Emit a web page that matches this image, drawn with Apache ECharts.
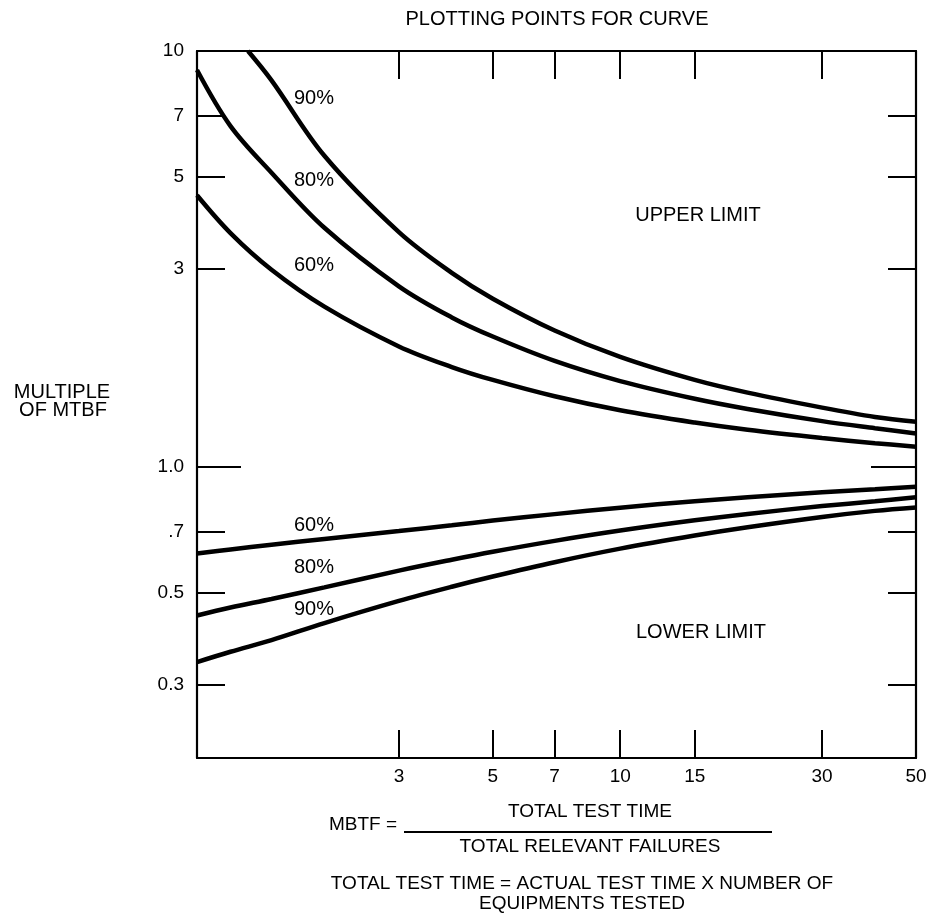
<!DOCTYPE html>
<html>
<head>
<meta charset="utf-8">
<script src="https://cdn.jsdelivr.net/npm/echarts@6/dist/echarts.min.js"></script>
<style>
  html, body { margin: 0; padding: 0; background: #fff; }
  #chart { width: 934px; height: 924px; }
</style>
</head>
<body>
<div id="chart"></div>
<script>
// number of failures (x) and multiple of MTBF (y)
var failures = [1, 1.2, 1.5, 2, 3, 4, 5, 7, 10, 15, 20, 30, 40, 50];
var upper90X = [1.32, 1.5, 2, 3, 4, 5, 7, 10, 15, 20, 30, 40, 50];
var upper90 = [10, 8.5, 5.6, 3.67, 2.93, 2.54, 2.13, 1.84, 1.62, 1.51, 1.39, 1.32, 1.285];
var upper80 = [9.0, 6.6, 5.1, 3.76, 2.72, 2.29, 2.06, 1.8, 1.61, 1.46, 1.38, 1.29, 1.24, 1.205];
var upper60 = [4.5, 3.65, 2.98, 2.43, 1.95, 1.74, 1.62, 1.48, 1.37, 1.28, 1.23, 1.175, 1.142, 1.12];
var lower60 = [0.62, 0.634, 0.651, 0.672, 0.702, 0.725, 0.744, 0.771, 0.799, 0.828, 0.846, 0.87, 0.885, 0.897];
var lower80 = [0.44, 0.46, 0.482, 0.514, 0.564, 0.599, 0.626, 0.665, 0.704, 0.745, 0.772, 0.806, 0.828, 0.846];
var lower90 = [0.34, 0.36, 0.384, 0.422, 0.477, 0.516, 0.546, 0.591, 0.637, 0.685, 0.717, 0.759, 0.785, 0.8];

// tick labels
var xTickValues = [3, 5, 7, 10, 15, 30, 50];
var xTickLabels = ['3', '5', '7', '10', '15', '30', '50'];
var yTickValues = [10, 7, 5, 3, 1, 0.7, 0.5, 0.3];
var yTickLabels = ['10', '7', '5', '3', '1.0', '.7', '0.5', '0.3'];

var FONT = '"Liberation Sans", Arial, Helvetica, sans-serif';

function lookup(values, labels) {
  return function (v) {
    for (var i = 0; i < values.length; i++) {
      if (Math.abs(v - values[i]) / values[i] < 1e-4) return labels[i];
    }
    return '';
  };
}

function pairs(xs, ys) {
  return xs.map(function (x, i) { return [x, ys[i]]; });
}

var xInner = [3, 5, 7, 10, 15, 30];
var yInner = [7, 5, 3, 0.7, 0.5, 0.3];

function xAxisOf(pos, showLabels) {
  return {
    type: 'log', logBase: 10, min: 1, max: 50, position: pos,
    axisLine: { show: true, lineStyle: { color: '#000', width: 2.2 } },
    axisTick: { show: true, inside: true, length: 28, customValues: xInner,
      lineStyle: { color: '#000', width: 2 } },
    axisLabel: { show: showLabels, customValues: xTickValues, margin: 9,
      formatter: lookup(xTickValues, xTickLabels),
      color: '#000', fontSize: 19, fontFamily: FONT },
    splitLine: { show: false }, minorTick: { show: false }
  };
}

function yAxisOf(pos, ticks, len, showLine, showLabels) {
  return {
    type: 'log', logBase: 10, min: 0.2, max: 10, position: pos,
    axisLine: { show: showLine, lineStyle: { color: '#000', width: 2.2 } },
    axisTick: { show: true, inside: true, length: len, customValues: ticks,
      lineStyle: { color: '#000', width: 2 } },
    axisLabel: { show: showLabels, customValues: yTickValues, margin: 13,
      formatter: lookup(yTickValues, yTickLabels),
      color: '#000', fontSize: 19, fontFamily: FONT },
    splitLine: { show: false }, minorTick: { show: false }
  };
}

function curve(name, data) {
  return {
    name: name, type: 'line', data: data, xAxisIndex: 0, yAxisIndex: 0,
    showSymbol: false, smooth: 0.35, silent: true,
    lineStyle: { color: '#000', width: 4.5 }, animation: false
  };
}

function txt(text, x, y, size, align) {
  return {
    type: 'text', x: x, y: y, silent: true,
    style: { text: text, fill: '#000', font: size + 'px ' + FONT,
      align: align || 'center', verticalAlign: 'middle' }
  };
}

var option = {
  backgroundColor: '#fff',
  animation: false,
  grid: { left: 197, right: 18, top: 51, bottom: 166 },
  xAxis: [xAxisOf('bottom', true), xAxisOf('top', false)],
  yAxis: [
    yAxisOf('left', yInner, 28, true, true),
    yAxisOf('left', [1], 44, false, false),
    yAxisOf('right', yInner, 28, true, false),
    yAxisOf('right', [1], 45, false, false)
  ],
  series: [
    curve('Upper 90%', pairs(upper90X, upper90)),
    curve('Upper 80%', pairs(failures, upper80)),
    curve('Upper 60%', pairs(failures, upper60)),
    curve('Lower 60%', pairs(failures, lower60)),
    curve('Lower 80%', pairs(failures, lower80)),
    curve('Lower 90%', pairs(failures, lower90))
  ],
  graphic: [
    txt('PLOTTING POINTS FOR CURVE', 557, 19, 20),
    txt('90%', 294, 98, 20, 'left'),
    txt('80%', 294, 180, 20, 'left'),
    txt('60%', 294, 265, 20, 'left'),
    txt('UPPER LIMIT', 698, 215, 20),
    txt('60%', 294, 525, 20, 'left'),
    txt('80%', 294, 567, 20, 'left'),
    txt('90%', 294, 609, 20, 'left'),
    txt('LOWER LIMIT', 701, 632, 20),
    txt('MULTIPLE', 62, 392, 20),
    txt('OF MTBF', 63, 410, 20),
    txt('MBTF =', 397, 825, 19, 'right'),
    txt('TOTAL TEST TIME', 590, 812, 19),
    {
      type: 'line', silent: true,
      shape: { x1: 404, y1: 832, x2: 772, y2: 832 },
      style: { stroke: '#000', lineWidth: 2 }
    },
    txt('TOTAL RELEVANT FAILURES', 590, 847, 19),
    txt('TOTAL TEST TIME = ACTUAL TEST TIME X NUMBER OF', 582, 884, 19),
    txt('EQUIPMENTS TESTED', 582, 904, 19)
  ]
};

var myChart = echarts.init(document.getElementById('chart'), null, { renderer: 'canvas' });
myChart.setOption(option);
</script>
</body>
</html>
